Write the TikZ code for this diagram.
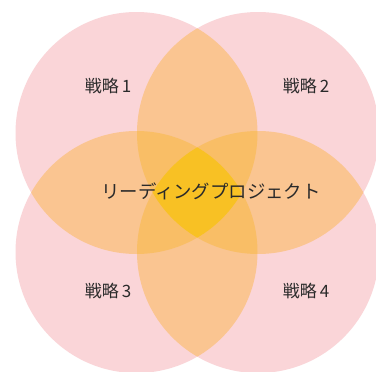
\documentclass[tikz,border=0pt]{standalone}
\usepackage{fontspec}
\newfontfamily\cjk{Noto Sans CJK JP}
\definecolor{pk}{HTML}{FAD5D8}
\definecolor{two}{HTML}{FAC591}
\definecolor{three}{HTML}{F9BE66}
\definecolor{four}{HTML}{F8C124}
\definecolor{txt}{HTML}{2A2A2A}
\tikzset{lbl/.style={font=\cjk\fontsize{17}{19}\selectfont, text=txt, inner sep=0pt}}
\begin{document}
\begin{tikzpicture}[x=1pt,y=-1pt]
\useasboundingbox (0,0) rectangle (376,372);
\clip (0,0) rectangle (376,372);
\fill[white] (0,0) rectangle (376,372);
\coordinate (c1) at (136.5,133);
\coordinate (c2) at (258,133);
\coordinate (c3) at (136.5,252);
\coordinate (c4) at (258,252);
\def\R{121pt}
% single circles
\foreach \c in {c1,c2,c3,c4} \fill[pk] (\c) circle[radius=\R];
% pair overlaps
\foreach \a/\b in {c1/c2,c3/c4,c1/c3,c2/c4,c1/c4,c2/c3} {
  \begin{scope}
    \clip (\a) circle[radius=\R];
    \fill[two] (\b) circle[radius=\R];
  \end{scope}
}
% triple overlaps
\foreach \a/\b/\d in {c1/c2/c3,c1/c2/c4,c1/c3/c4,c2/c3/c4} {
  \begin{scope}
    \clip (\a) circle[radius=\R];
    \clip (\b) circle[radius=\R];
    \fill[three] (\d) circle[radius=\R];
  \end{scope}
}
% quadruple overlap
\begin{scope}
  \clip (c1) circle[radius=\R];
  \clip (c2) circle[radius=\R];
  \clip (c3) circle[radius=\R];
  \fill[four] (c4) circle[radius=\R];
\end{scope}
\node[lbl] (s1) at (108,86) {戦略\hspace{3pt}1};
\node[lbl] (s2) at (306,86) {戦略\hspace{3pt}2};
\node[lbl] (s3) at (108,291) {戦略\hspace{3pt}3};
\node[lbl] (s4) at (306,291) {戦略\hspace{3pt}4};
\node[lbl, font=\cjk\fontsize{18.4}{21}\selectfont] (lp) at (211,191) {リーディングプロジェクト};
\end{tikzpicture}
\end{document}
